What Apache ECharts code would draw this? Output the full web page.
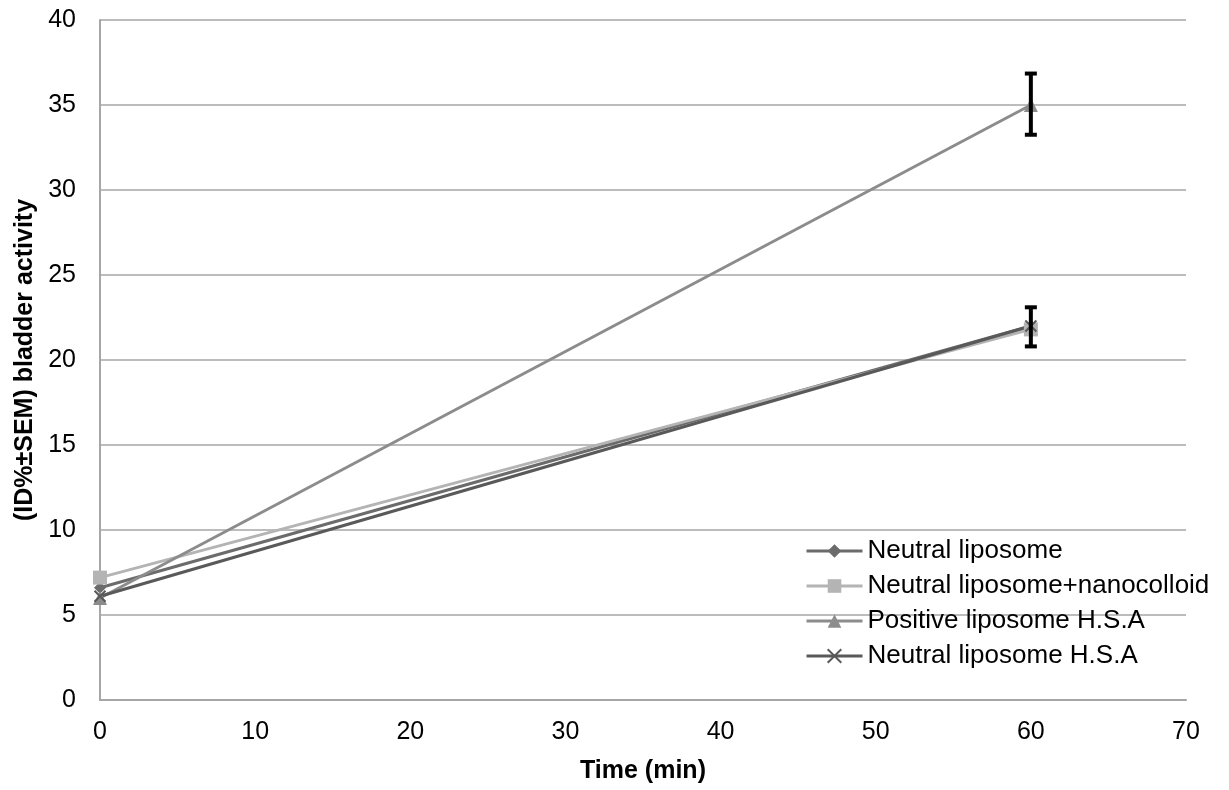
<!DOCTYPE html>
<html>
<head>
<meta charset="utf-8">
<script src="https://cdn.jsdelivr.net/npm/echarts@6/dist/echarts.min.js"></script>
<style>html,body{margin:0;padding:0;background:#fff;}#c{width:1229px;height:790px;}</style>
</head>
<body>
<div id="c"></div>
<script>
var timePoints = [0, 60];
var seriesNames = ['Neutral liposome', 'Neutral liposome+nanocolloid', 'Positive liposome H.S.A', 'Neutral liposome H.S.A'];
var neutralLiposome = [6.6, 22.0];
var neutralNanocolloid = [7.2, 21.8];
var positiveHSA = [6.0, 35.0];
var neutralHSA = [6.1, 22.0];
var errorBars = [[60, 35.05, 1.8], [60, 21.95, 1.15]];
var xTicks = [0, 10, 20, 30, 40, 50, 60, 70];
var yTicks = [0, 5, 10, 15, 20, 25, 30, 35, 40];

function pairs(vals) { return timePoints.map(function (t, i) { return [t, vals[i]]; }); }

var font = 'Liberation Sans, Arial, sans-serif';
var chart = echarts.init(document.getElementById('c'));
function lineSeries(name, vals, color, symbol, size, stroked) {
  return {
    name: name, type: 'line', data: pairs(vals), symbol: symbol, symbolSize: size,
    lineStyle: { color: color, width: 3 },
    itemStyle: stroked ? { color: 'rgba(0,0,0,0)', borderColor: color, borderWidth: 2 } : { color: color },
    showAllSymbol: true, z: 3
  };
}
chart.setOption({
  animation: false,
  backgroundColor: '#fff',
  grid: { left: 100, right: 43, top: 20, bottom: 90 },
  xAxis: {
    type: 'value', min: 0, max: 70, interval: 10,
    name: 'Time (min)', nameLocation: 'middle', nameGap: 59,
    nameTextStyle: { fontFamily: font, fontSize: 25, fontWeight: 'bold', color: '#000' },
    axisLine: { lineStyle: { color: '#a6a6a6', width: 2 } },
    axisTick: { show: false },
    axisLabel: { fontFamily: font, fontSize: 25, color: '#000', margin: 20 },
    splitLine: { show: false }
  },
  yAxis: {
    type: 'value', min: 0, max: 40, interval: 5,
    name: '(ID%±SEM) bladder activity', nameLocation: 'middle', nameGap: 60,
    nameTextStyle: { fontFamily: font, fontSize: 25, fontWeight: 'bold', color: '#000' },
    axisLine: { show: true, lineStyle: { color: '#a6a6a6', width: 2 } },
    axisTick: { show: false },
    axisLabel: { fontFamily: font, fontSize: 25, color: '#000', margin: 24 },
    splitLine: { lineStyle: { color: '#a6a6a6', width: 1.5 } }
  },
  legend: {
    orient: 'vertical', left: 800, top: 533, itemGap: 9,
    itemWidth: 56, itemHeight: 17,
    lineStyle: { width: 3 },
    textStyle: { fontFamily: font, fontSize: 26, color: '#000' },
    data: seriesNames
  },
  series: [
    lineSeries(seriesNames[0], neutralLiposome, '#6b6b6b', 'diamond', 12),
    lineSeries(seriesNames[1], neutralNanocolloid, '#b4b4b4', 'rect', 14),
    lineSeries(seriesNames[2], positiveHSA, '#8c8c8c', 'triangle', 14),
    lineSeries(seriesNames[3], neutralHSA, '#595959', 'path://M0,0L10,10M10,0L0,10', 11, true),
    {
      type: 'custom', name: 'err', data: errorBars, z: 5, silent: true,
      renderItem: function (params, api) {
        var x = api.value(0), c = api.value(1), e = api.value(2);
        var top = api.coord([x, c + e]);
        var bot = api.coord([x, c - e]);
        var w = 6;
        return {
          type: 'group', children: [
            { type: 'line', shape: { x1: top[0], y1: top[1], x2: bot[0], y2: bot[1] }, style: { stroke: '#000', lineWidth: 4 } },
            { type: 'line', shape: { x1: top[0] - w, y1: top[1], x2: top[0] + w, y2: top[1] }, style: { stroke: '#000', lineWidth: 4 } },
            { type: 'line', shape: { x1: bot[0] - w, y1: bot[1], x2: bot[0] + w, y2: bot[1] }, style: { stroke: '#000', lineWidth: 4 } }
          ]
        };
      }
    }
  ]
});
</script>
</body>
</html>
